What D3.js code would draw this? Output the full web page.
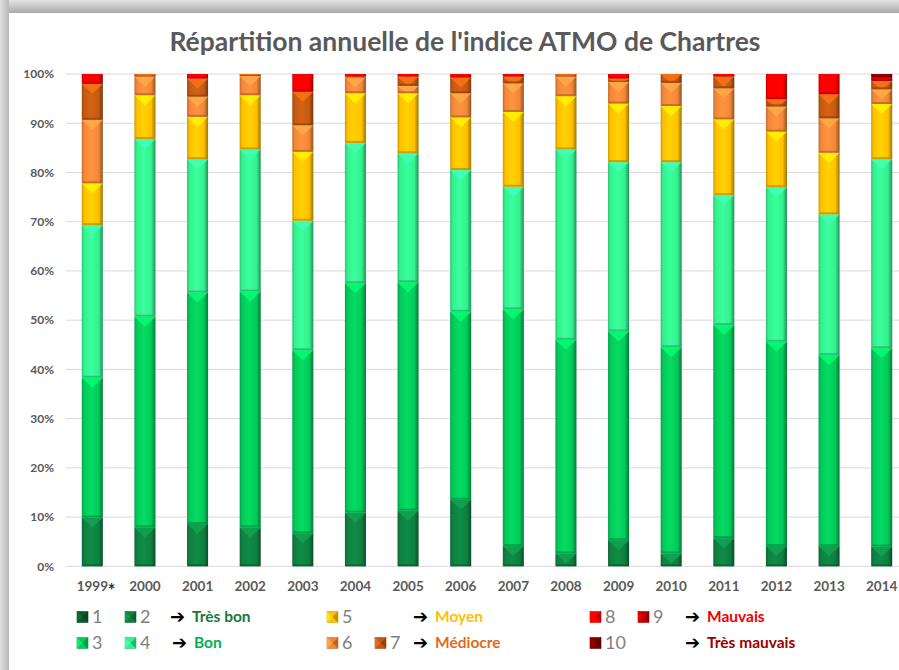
<!DOCTYPE html>
<html>
<head>
<meta charset="utf-8">
<script src="https://cdn.jsdelivr.net/npm/d3@7"></script>
<style>
  body { margin: 0; background: #fff; }
  svg { display: block; font-family: Lato, "Open Sans", sans-serif; }
</style>
</head>
<body>
<div id="chart"></div>
<script>
// years (1999 partial year, marked with *)
const years = ["1999", "2000", "2001", "2002", "2003", "2004", "2005", "2006",
  "2007", "2008", "2009", "2010", "2011", "2012", "2013", "2014"];

// share of days (%) for each ATMO index, one array per index
const atmo1 = [0, 0, 0, 0, 0, 0, 0, 0, 0, 0, 0, 0, 0, 0, 0, 0];
const atmo2 = [9.9, 7.9, 8.6, 7.9, 6.7, 10.9, 11.3, 13.5, 4.1, 2.6, 5.3, 2.6, 5.7, 4.1, 4.1, 4.0];
const atmo3 = [28.4, 42.8, 47.0, 47.9, 37.2, 46.6, 46.4, 38.2, 48.1, 43.4, 42.4, 41.9, 43.3, 41.5, 38.8, 40.3];
const atmo4 = [31.0, 36.1, 27.1, 28.9, 26.3, 28.5, 26.2, 28.8, 24.9, 38.7, 34.4, 37.6, 26.4, 31.4, 28.6, 38.4];
const atmo5 = [8.5, 8.9, 8.6, 11.0, 14.0, 10.1, 12.2, 10.7, 15.2, 10.8, 11.9, 11.4, 15.4, 11.3, 12.5, 11.2];
const atmo6 = [12.9, 3.8, 4.1, 3.9, 5.4, 3.2, 1.5, 4.9, 5.8, 4.0, 4.4, 4.7, 6.3, 5.1, 7.0, 3.0];
const atmo7 = [7.3, 0.5, 3.7, 0.4, 6.8, 0.2, 1.9, 3.2, 1.4, 0.5, 0.7, 1.8, 2.4, 1.5, 4.9, 1.7];
const atmo8 = [2.0, 0, 0.9, 0, 3.6, 0.5, 0.5, 0.7, 0.5, 0, 0.9, 0, 0.5, 5.1, 4.1, 0];
const atmo9 = [0, 0, 0, 0, 0, 0, 0, 0, 0, 0, 0, 0, 0, 0, 0, 0.7];
const atmo10 = [0, 0, 0, 0, 0, 0, 0, 0, 0, 0, 0, 0, 0, 0, 0, 0.7];

const indexKeys = ["1", "2", "3", "4", "5", "6", "7", "8", "9", "10"];
const indexColors = ["#0b5a2b", "#0e8040", "#03c95a", "#34f18f", "#ffc000",
  "#f2873a", "#c45a12", "#ff0000", "#c00000", "#7a0000"];

const yTicks = [0, 10, 20, 30, 40, 50, 60, 70, 80, 90, 100];

const series = [atmo1, atmo2, atmo3, atmo4, atmo5, atmo6, atmo7, atmo8, atmo9, atmo10];
const table = years.map((y, i) => {
  let row = {year: y};
  indexKeys.forEach((k, j) => row[k] = series[j][i]);
  return row;
});

let W = 899, H = 670,
  margin = {top: 74, left: 66, right: -9, bottom: 103.7},
  width = W - margin.left - margin.right,
  height = H - margin.top - margin.bottom;

let svg = d3.select("#chart")
  .append("svg")
  .attr("width", W)
  .attr("height", H);

let defs = svg.append("defs");

// frame (grey border of the pasted picture)
let topGrad = defs.append("linearGradient")
  .attr("id", "frameTop")
  .attr("x1", 0).attr("y1", 0).attr("x2", 0).attr("y2", 1);
topGrad.append("stop").attr("offset", "0%").attr("stop-color", "#e4e4e4");
topGrad.append("stop").attr("offset", "100%").attr("stop-color", "#a9a9a9");
let leftGrad = defs.append("linearGradient")
  .attr("id", "frameLeft")
  .attr("x1", 0).attr("y1", 0).attr("x2", 1).attr("y2", 0);
leftGrad.append("stop").attr("offset", "0%").attr("stop-color", "#e0e0e0");
leftGrad.append("stop").attr("offset", "100%").attr("stop-color", "#b8b8b8");

svg.append("rect")
  .attr("x", 0).attr("y", 0)
  .attr("width", W).attr("height", H)
  .attr("fill", "#fff");
svg.append("rect")
  .attr("x", 0).attr("y", 0)
  .attr("width", W).attr("height", 13)
  .attr("fill", "url(#frameTop)");
svg.append("rect")
  .attr("x", 0).attr("y", 0)
  .attr("width", 9).attr("height", H)
  .attr("fill", "url(#frameLeft)");

// horizontal shading gradient for each index colour (bevelled bars)
indexColors.forEach((c, i) => {
  let g = defs.append("linearGradient")
    .attr("id", "bar" + i)
    .attr("x1", 0).attr("y1", 0).attr("x2", 1).attr("y2", 0);
  g.append("stop").attr("offset", "0%").attr("stop-color", d3.color(c).darker(0.6));
  g.append("stop").attr("offset", "12%").attr("stop-color", c);
  g.append("stop").attr("offset", "45%").attr("stop-color", d3.color(c).brighter(0.25));
  g.append("stop").attr("offset", "80%").attr("stop-color", c);
  g.append("stop").attr("offset", "100%").attr("stop-color", d3.color(c).darker(1.4));
});

svg.append("text")
  .attr("x", 465)
  .attr("y", 51)
  .attr("text-anchor", "middle")
  .style("font-size", "26.5px")
  .style("font-weight", "bold")
  .style("fill", "#595959")
  .text("Répartition annuelle de l'indice ATMO de Chartres");

let g = svg.append("g")
  .attr("transform", "translate(" + margin.left + "," + margin.top + ")");

let xScale = d3.scaleBand()
  .domain(years)
  .range([0, width])
  .paddingInner(0.6)
  .paddingOuter(0.3);

let yScale = d3.scaleLinear()
  .domain([0, 100])
  .range([height, 0]);

// grid
g.selectAll(".grid")
  .data(yTicks)
  .enter().append("line")
  .attr("class", "grid")
  .attr("x1", 0)
  .attr("x2", width)
  .attr("y1", d => yScale(d))
  .attr("y2", d => yScale(d))
  .attr("stroke", "#d9d9d9")
  .attr("stroke-width", 1);

let yAxis = g.append("g")
  .call(d3.axisLeft(yScale).tickValues(yTicks).tickFormat(d => d + "%").tickSize(0).tickPadding(12));
yAxis.select(".domain").remove();
yAxis.selectAll("text")
  .style("font-size", "12px")
  .style("font-weight", "bold")
  .style("font-family", "Lato, sans-serif")
  .style("fill", "#595959");

let xAxis = g.append("g")
  .attr("transform", "translate(0," + height + ")")
  .call(d3.axisBottom(xScale).tickSize(0).tickPadding(15));
xAxis.select(".domain").remove();
xAxis.selectAll("text")
  .style("font-size", "13.5px")
  .style("font-weight", "bold")
  .style("font-family", "Lato, sans-serif")
  .style("fill", "#595959");

// asterisk next to the partial year
g.append("text")
  .attr("x", xScale("1999") + xScale.bandwidth() + 5)
  .attr("y", height + 31)
  .attr("text-anchor", "start")
  .style("font-size", "18px")
  .style("font-weight", "bold")
  .style("fill", "#333")
  .text("*");

let stacked = d3.stack().keys(indexKeys)(table);
let bw = xScale.bandwidth();

let layers = g.selectAll(".layer")
  .data(stacked)
  .enter().append("g")
  .attr("class", "layer");

let segs = layers.selectAll(".seg")
  .data((d, i) => d.map(p => ({p: p, i: i})).filter(s => s.p[1] - s.p[0] > 0))
  .enter().append("g")
  .attr("class", "seg");

segs.append("rect")
  .attr("x", d => xScale(d.p.data.year))
  .attr("y", d => yScale(d.p[1]))
  .attr("width", bw)
  .attr("height", d => yScale(d.p[0]) - yScale(d.p[1]))
  .attr("fill", d => "url(#bar" + d.i + ")");

// bevel at the top of each segment: light band and small chevron
segs.append("path")
  .attr("d", d => {
    let x0 = xScale(d.p.data.year), x1 = x0 + bw,
      y0 = yScale(d.p[1]), h = yScale(d.p[0]) - y0,
      b = Math.min(3, h / 2), t = Math.min(7, h - b);
    let p = "M" + x0 + "," + y0 + "L" + x1 + "," + y0 + "L" + (x1 - b) + "," + (y0 + b) + "L" + (x0 + b) + "," + (y0 + b) + "Z";
    if (t > 1) {
      p += "M" + (x0 + b) + "," + (y0 + b) + "L" + (x1 - b) + "," + (y0 + b) + "L" + (x0 + bw / 2) + "," + (y0 + b + t) + "Z";
    }
    return p;
  })
  .attr("fill", d => d3.color(indexColors[d.i]).brighter(0.7))
  .attr("opacity", 0.8);

// darker line at the bottom of each segment
segs.append("rect")
  .attr("x", d => xScale(d.p.data.year) + 1)
  .attr("y", d => yScale(d.p[0]) - Math.min(2, (yScale(d.p[0]) - yScale(d.p[1])) / 3))
  .attr("width", bw - 2)
  .attr("height", d => Math.min(2, (yScale(d.p[0]) - yScale(d.p[1])) / 3))
  .attr("fill", d => d3.color(indexColors[d.i]).darker(0.9))
  .attr("opacity", 0.7);

// legend
let legendRows = [
  {items: [[0, 77], [1, 125]], arrow: 170, label: "Très bon", color: "#17783d", row: 0},
  {items: [[2, 77], [3, 125]], arrow: 172, label: "Bon", color: "#00b050", row: 1},
  {items: [[4, 327]], arrow: 413, label: "Moyen", color: "#ffc000", row: 0},
  {items: [[5, 327], [6, 375]], arrow: 413, label: "Médiocre", color: "#e06c1a", row: 1},
  {items: [[7, 590], [8, 638]], arrow: 685, label: "Mauvais", color: "#ee0000", row: 0},
  {items: [[9, 590]], arrow: 685, label: "Très mauvais", color: "#9a0000", row: 1}
];

let legend = svg.append("g").attr("class", "legend");

legendRows.forEach(r => {
  let cy = 617 + r.row * 26;
  r.items.forEach(([k, x]) => {
    let s = 11, c = indexColors[k], y = cy - s / 2;
    // little pyramid swatch
    let sw = legend.append("g");
    sw.append("rect")
      .attr("x", x).attr("y", y)
      .attr("width", s).attr("height", s)
      .attr("fill", c)
      .attr("stroke", d3.color(c).darker(0.5))
      .attr("stroke-width", 0.6);
    sw.append("path")
      .attr("d", "M" + x + "," + y + "L" + (x + s / 2) + "," + (y + s / 2) + "L" + x + "," + (y + s) + "Z")
      .attr("fill", d3.color(c).brighter(0.5));
    sw.append("path")
      .attr("d", "M" + (x + s) + "," + y + "L" + (x + s / 2) + "," + (y + s / 2) + "L" + (x + s) + "," + (y + s) + "Z")
      .attr("fill", d3.color(c).darker(0.8));
    legend.append("text")
      .attr("x", x + 15)
      .attr("y", cy + 6)
      .style("font-size", "18px")
      .style("fill", "#7f7f7f")
      .text(indexKeys[k]);
  });
  legend.append("text")
    .attr("x", r.arrow)
    .attr("y", cy + 6)
    .style("font-size", "18px")
    .style("font-family", "DejaVu Sans, sans-serif")
    .style("font-weight", "bold")
    .style("fill", "#000")
    .text("➔");
  legend.append("text")
    .attr("x", r.arrow + 22)
    .attr("y", cy + 5)
    .style("font-size", "15.5px")
    .style("font-weight", "bold")
    .style("fill", r.color)
    .text(r.label);
});
</script>
</body>
</html>
